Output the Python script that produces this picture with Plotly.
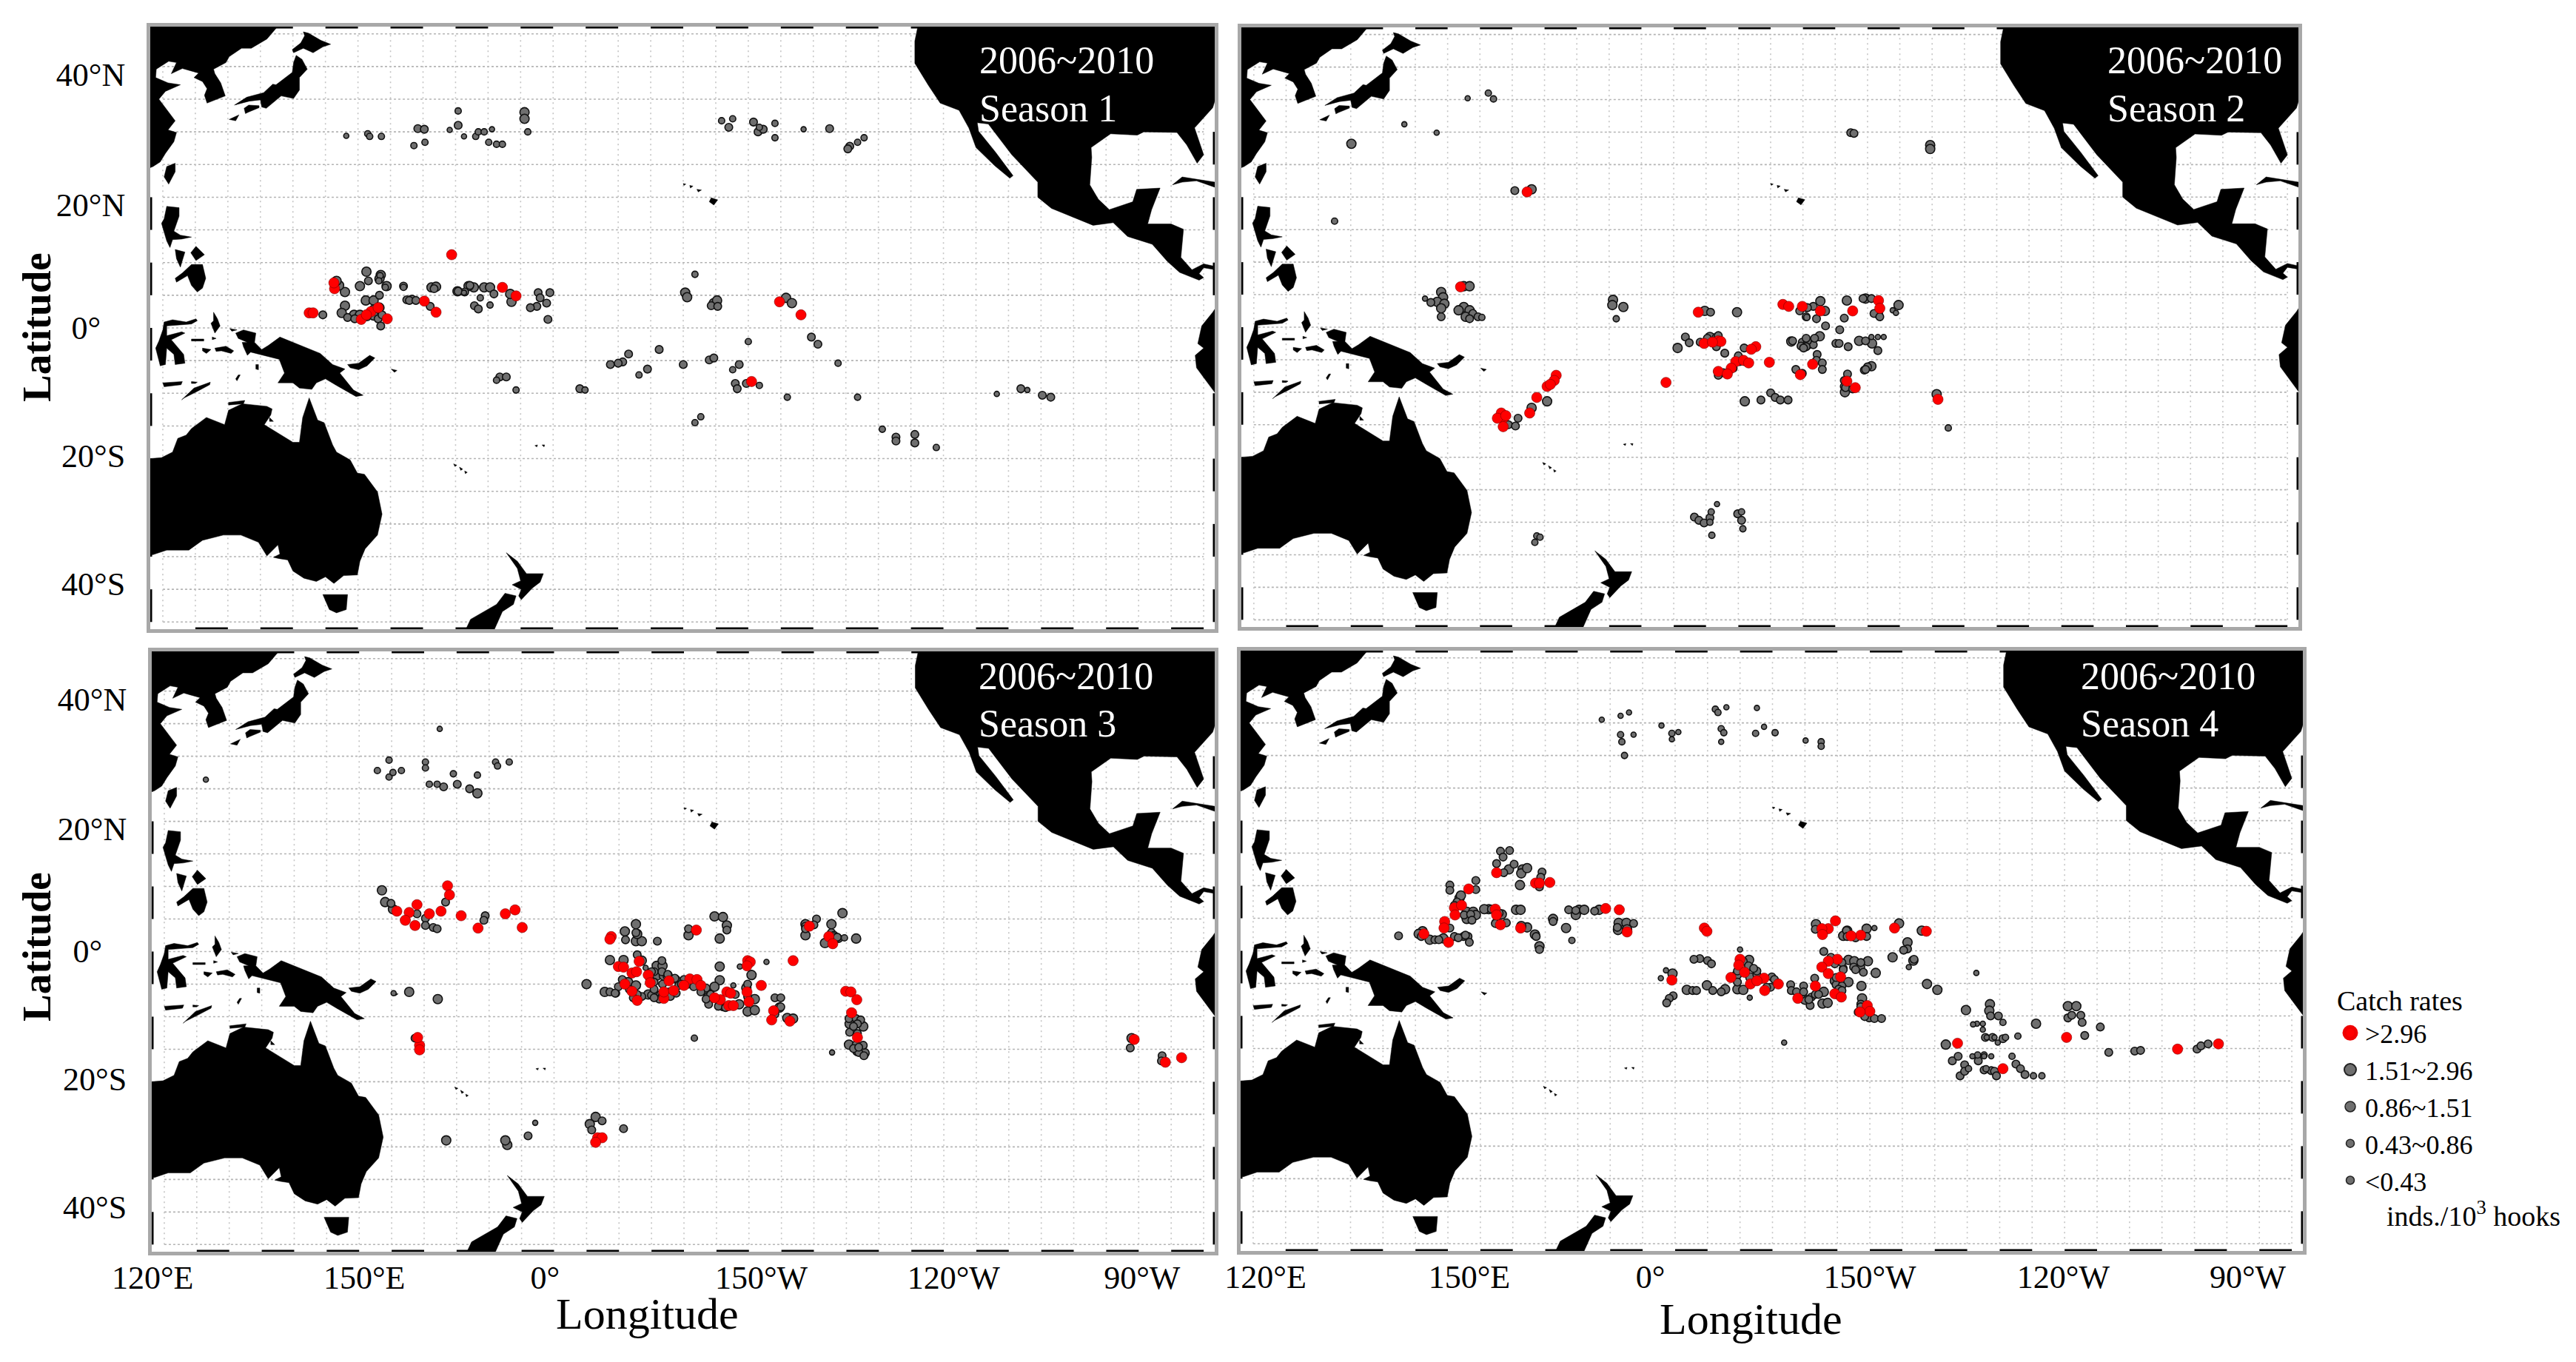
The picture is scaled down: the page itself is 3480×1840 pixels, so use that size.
import plotly.graph_objects as go

# ---- tick labels ----
LAT_TICK_VALS = [38.8, 18.9, 0.1, -19.6, -39.2]
LAT_TICK_TEXT = ["40°N", "20°N", "0°\u00a0\u00a0\u00a0", "20°S", "40°S"]
LON_TICK_TEXT = ["120°E", "150°E", "0°", "150°W", "120°W", "90°W"]
LON_TICK_VALS_3 = [118.2, 150.8, 178.6, 211.9, 241.5, 270.5]
LON_TICK_VALS_4 = [121.9, 153.3, 181.2, 215.0, 244.8, 273.2]
CLASS_NAMES = [">2.96", "1.51~2.96", "0.86~1.51", "0.43~0.86", "<0.43"]

# ---- land outlines (lon, lat) ----
ASIA = [(118,46.3),(137.8,46.3),(136,44.2),(133.6,42.8),(132.1,42.8),(130.2,41.5),(129.7,40.6),(127.8,39.6),(128,38.9),(128.9,37.5),(129.6,35.5),(126.8,34.4),(126.4,35.6),(126.8,36.6),(126.1,37.7),(124.8,38.3),(125.5,39),(123,39.7),(121.3,38.9),(122.1,40.6),(120.9,40.8),(119,39.6),(118.9,38.3),(120.8,37.5),(122.7,37.2),(120.4,36.2),(119.4,35),(120.8,33.2),(121.9,31.7),(120.8,30.3),(122.1,29.9),(121.7,28.5),(120.4,26.7),(119.6,25.4),(118.5,24.7),(118,24.5)]
HOKKAIDO = [(141.6,45.3),(142.4,45.1),(144.3,44),(145.8,43.4),(144.6,43),(143.1,42.1),(141.6,42.8),(140.1,42.1),(139.9,42.6),(141.2,43.6),(141.8,44.7)]
HONSHU = [(140.5,41.7),(141.4,41.1),(142.2,39.6),(141,38.3),(141,36.4),(140.1,35.1),(138.2,35.5),(137,34.5),(135.9,33.6),(135.2,33.8),(135,34.9),(133.3,34.7),(131,34.1),(132.9,35.3),(135.5,36),(136.9,37.3),(137.4,37.2),(139.9,39.1),(140.1,40.6)]
KYUSHU = [(132.5,33.6),(133.2,34.1),(134.8,34),(134.8,33.7),(133.1,33),(132.7,32.8)]
RYUKYU = [(130.2,31.9),(131.7,32.6),(131.2,31.7)]
TAIWAN = [(121.9,25.2),(121.9,23.9),(120.9,22),(120.2,23.1),(120.6,24.7)]
LUZON = [(120.6,18.6),(122.5,18.4),(122.5,17.1),(121.7,14.8),(122.7,14.2),(124.4,13.9),(122.9,13.6),(121.5,13.5),(121.1,12.3),(120.6,13.3),(119.8,16),(120.2,16.7)]
VISAYAS_W = [(121.9,12),(123.4,11.6),(123,10.3),(122.7,9.3),(122.1,10.6)]
VISAYAS_E = [(125.1,12.5),(126.4,11.2),(125.1,10.3),(124.3,11.5)]
MINDANAO = [(124.4,9.7),(126.1,9.7),(126.6,7.6),(126.1,6.1),(125.3,5.5),(124.4,6.5),(123.8,8),(122.1,7),(121.9,7.6),(123,8.4)]
SULAWESI = [(120.2,.9),(121.5,1.25),(123.6,.9),(125.1,1.4),(125.3,1.1),(124.4,.6),(120.6,.3),(120.6,-1.2),(122.9,-.6),(123.4,-.8),(121.3,-1.8),(123.2,-4.05),(123.4,-5.4),(121.9,-5.6),(121.7,-4.05),(120.6,-3.1),(120.4,-5.6),(119.6,-5.8),(119.4,-5),(118.9,-3.1),(119.4,-2),(120,-.3)]
HALMAHERA = [(127.8,2.4),(128.4,1.4),(128.8,.3),(128.2,-.45),(128,-.8),(127.4,.7),(127.8,1.1)]
OBI = [(124.4,-1.7),(126.3,-1.7),(126.3,-2),(124.4,-2)]
BACAN = [(127.6,-1.4),(128.2,-1.6),(127.6,-1.8)]
BURU = [(126.1,-3.1),(127.4,-3.3),(126.7,-3.9),(126.1,-3.5)]
SERAM = [(128,-3.1),(129.7,-2.8),(130.9,-3.5),(130.5,-3.9),(129,-3.5),(128.2,-3.6)]
WAIGEO = [(130.3,-.1),(131.4,-.3),(130.6,-.5)]
NEW_GUINEA = [(131.2,-.8),(132.4,-.3),(134.3,-.8),(134.1,-2.2),(135.2,-3.3),(136.2,-2.7),(138,-1.4),(140.4,-2.35),(144.2,-3.9),(146.1,-5.6),(148,-6.3),(147.2,-6.9),(149.3,-9.5),(150.8,-10.3),(149.7,-10.5),(146.7,-8.8),(145,-7.8),(143.6,-8.4),(142.9,-9.4),(141,-9.2),(140,-8.4),(137.7,-8.4),(138.7,-6.9),(137.9,-4.8),(135.4,-4.2),(133.5,-3.7),(133,-4.2),(132.4,-2.9),(132.2,-2.2),(133,-2.2),(131.6,-1.6)]
ARU = [(134.3,-5.6),(134.7,-5.6),(134.7,-6.4),(134.3,-6.3)]
TANIMBAR = [(131.6,-7.2),(131.9,-7.2),(131.4,-8.1),(131.2,-7.8)]
FLORES = [(120,-8.4),(123,-8.2),(122.8,-8.7),(120.2,-9)]
TIMOR = [(122.9,-11),(124.8,-9.2),(127.3,-8.3),(127.2,-8.7),(125.3,-9.7),(123.3,-10.7)]
ALOR = [(124.4,-8.2),(125.3,-8.3),(125,-8.5),(124.4,-8.5)]
NEW_BRITAIN = [(148.4,-5.6),(150.1,-5.4),(151.8,-4.2),(152.6,-4.6),(151.4,-5.8),(150.1,-6.4),(148.8,-6.1)]
BOUGAINVILLE = [(155.1,-6.3),(156,-6.5),(155.6,-6.8)]
NEW_CALEDONIA_A = [(164.7,-20.8),(165.2,-21),(164.9,-21.2)]
NEW_CALEDONIA_B = [(165.6,-21.3),(166.1,-21.6),(165.8,-21.8)]
NEW_CALEDONIA_C = [(166.4,-21.9),(166.8,-22.1),(166.5,-22.3)]
FIJI_A = [(177.2,-18),(177.6,-17.9),(177.5,-18.2)]
FIJI_B = [(178.3,-17.9),(178.7,-17.9),(178.6,-18.2)]
AUSTRALIA = [(118,-20),(119.8,-19.85),(121.5,-19),(122.3,-16.9),(123.6,-16.4),(124.4,-15.4),(126.7,-13.7),(129.5,-14.8),(130.1,-12.6),(132.2,-11.6),(136,-12),(136.8,-12.4),(136.6,-13.3),(135.6,-14.8),(140,-17.5),(141,-17.5),(141.5,-13.7),(142.5,-10.7),(143.8,-14.1),(144.8,-14.5),(146.1,-17.9),(146.7,-19),(148.8,-20.2),(149.9,-22.2),(151,-22.4),(153,-25.1),(153.7,-28.5),(153,-31.7),(151.1,-33.8),(150.3,-35.7),(149.9,-37.8),(147.8,-37.9),(146.3,-39.1),(145,-38.1),(143.6,-38.8),(141.7,-38.3),(140,-37.2),(139.2,-35.5),(137.9,-35.3),(137,-35.1),(138,-34.6),(137.7,-33.2),(136,-34.9),(134.7,-32.8),(132,-31.7),(129.3,-31.7),(126.1,-32.5),(124,-34),(120.6,-34),(118.5,-34.7),(118,-34.7)]
MELVILLE = [(130.1,-11.4),(132.6,-11.1),(132.4,-11.6),(130.1,-11.8)]
GROOTE = [(136.4,-13.7),(137,-14.3),(136.4,-14.3)]
TASMANIA = [(144.6,-40.8),(148.4,-40.8),(148.2,-43.1),(146.7,-43.6),(145.6,-43.1)]
NZ_NORTH = [(172.8,-34.4),(174.5,-35.7),(175.9,-37.6),(178.5,-37.6),(178,-38.9),(176.8,-39.8),(175.1,-41.6),(174.7,-41),(175.1,-40),(173.7,-39.3),(175,-38.7),(174.5,-36.8)]
NZ_SOUTH = [(172.6,-40.6),(174.3,-41),(173.9,-42.3),(172.2,-43.4),(170.9,-46.3),(166.5,-46.3),(167.3,-44.6),(169.4,-43.4),(171.3,-42.3)]
HAWAII_BIG = [(204.3,19.9),(205.3,19.6),(204.7,18.8),(204,19.3)]
HAWAII_A = [(202.1,21.2),(202.8,21.1),(202.3,20.8)]
HAWAII_B = [(201,21.8),(201.5,21.7),(201.1,21.4)]
HAWAII_C = [(200,22.1),(200.4,22),(200.1,21.8)]
N_AMERICA = [(236.1,46.3),(235.6,43.9),(235.6,40.5),(237.7,37.1),(239.5,34.4),(242.4,33.3),(243.9,30.6),(245,27.6),(247.9,24.8),(250.2,22.9),(250.7,23.3),(248,26.9),(245.4,30.1),(245.2,31.4),(246.9,31.2),(250.5,26.5),(254.5,22.3),(254.5,20),(256.6,18.3),(263,15.7),(266.1,16.1),(268.3,14),(272.1,12.8),(274.4,10.2),(276.3,8.5),(279.3,7.3),(280,7.7),(279.3,8.3),(280,9.2),(281.8,8.9),(281.8,9.4),(280,9.8),(278.2,8.9),(276.5,10.8),(276.9,15.1),(275,15.9),(271.4,15.9),(272,18.1),(273.3,21.4),(269.7,21.2),(269.1,19.3),(265.5,18.1),(263.8,19.7),(262.5,21.9),(262.8,26.1),(262.7,27.6),(265.7,29.7),(269.8,29.5),(270.8,30),(275.9,29.9),(277.4,28),(279,25.2),(280,26.5),(278.6,30.6),(281.4,33.7),(281.8,35),(281.8,46.3)]
CUBA = [(275.2,21.9),(276.7,23.1),(281.8,22.3),(281.8,21.5),(278.9,22.5),(276.7,22.3)]
S_AMERICA = [(281.8,3),(281.4,2.4),(279.7,.3),(279.1,-2.4),(280,-3.1),(278.7,-4.2),(278.9,-6.1),(281.8,-10)]
LAND = [ASIA, HOKKAIDO, HONSHU, KYUSHU, RYUKYU, TAIWAN, LUZON, VISAYAS_W, VISAYAS_E, MINDANAO, SULAWESI, HALMAHERA, OBI, BACAN, BURU, SERAM, WAIGEO, NEW_GUINEA, ARU, TANIMBAR, FLORES, TIMOR, ALOR, NEW_BRITAIN, BOUGAINVILLE, NEW_CALEDONIA_A, NEW_CALEDONIA_B, NEW_CALEDONIA_C, FIJI_A, FIJI_B, AUSTRALIA, MELVILLE, GROOTE, TASMANIA, NZ_NORTH, NZ_SOUTH, HAWAII_BIG, HAWAII_A, HAWAII_B, HAWAII_C, N_AMERICA, CUBA, S_AMERICA]

# ---- Season 1 catch-rate points (lon, lat) ----
s1_red = [(164.4,11.2),(160.2,4.1),(162,2.4),(154.5,1.4),(152,2.5),(153.1,3.1),(150.5,1.3),(151.3,2),(146.4,6),(146.3,6.9),(142.5,2.3),(143.1,2.3),(172.2,6.2),(174.3,4.9),(214.8,4),(218.1,2),(210.5,-8.2)]
s1_large = [(151.3,8.6),(153.5,8.1),(153.3,7.5),(150.3,6.4),(154.4,6.4),(148,5.5),(147.1,6.5),(146.7,7.2),(148,3.4),(147.5,2.3),(149.4,2),(150.3,2),(151.2,4.2),(152.4,4.2),(153.3,3.1),(152.4,1.9),(161.3,6.2),(162,6.3),(165.3,5.6),(175.6,33),(175.6,32),(200.3,5.4),(200.6,4.7),(204.7,3.8),(205.2,4.2),(215.8,4.6),(216.7,3.8),(169.4,6.2),(167.8,6.2),(170.3,6.2),(167,6.4),(173.6,4),(173.4,5.2)]
s1_mid = [(151.6,7.2),(153.3,5),(157,6.4),(157.5,4.3),(158.3,4.4),(161.1,3.3),(166.4,5.5),(167.2,6.5),(167.9,3.4),(144.6,2),(148.4,1.6),(149.5,1.4),(153.1,1.4),(153.5,.3),(151.4,1.7),(153.7,2),(152.4,2.9),(165.4,5.6),(161.7,6),(170.9,5.2),(177.7,5.4),(179.5,5.4),(178,4.6),(179,3.8),(177.5,3.3),(176.5,3.1),(179.2,1.3),(168.5,2.9),(204.3,3.4),(205.3,3.3),(219.7,-1.4),(220.7,-2.5),(196.3,-3.3),(191.6,-4),(190.7,-5.2),(188.8,-5.6),(190,-5.4),(194.5,-6.3),(200,-5.6),(204,-4.9),(204.7,-4.6),(208.6,-5.6),(208,-8.5),(208.3,-9.3),(209.7,-8.5),(171.8,-7.5),(172.8,-7.5),(184.1,-9.3),(251.9,-9.3),(255.2,-10.3),(256.5,-10.6),(232.7,-16.7),(232.7,-17.3),(235.6,-16.3),(235.6,-17.6),(157.9,4.2),(158.9,4.2),(225.6,27.8),(225.3,27.4),(211.5,30),(212.3,30.4),(210.8,31.5),(222.5,30.5),(207,30.7),(165.4,31),(159.2,30.5),(160.2,30.4)]
s1_small = [(201.8,8.2),(153.4,8),(153.2,7.2),(154.2,6.2),(157,6.2),(168.8,4.6),(170.3,3.5),(193.2,-7.2),(207.6,-6.4),(211.7,-8.8),(171.3,-8),(174.3,-9.5),(184.9,-9.5),(216,-10.6),(226.8,-10.6),(223.8,-5.4),(210,-2.1),(201.8,-14.5),(238.9,-18.3),(230.6,-15.5),(202.7,-13.6),(165.4,33.2),(176.1,30),(205.9,31.7),(207.6,32),(211.7,30.7),(214.1,31.3),(214.1,29.1),(226.8,28.4),(227.8,29.1),(151.5,29.7),(151.8,29.3),(153.6,29.3),(160.3,28.4),(158.6,27.9),(168.1,29.3),(168.5,30),(169.4,30),(170.1,28.4),(171.3,28.1),(172.2,28.1)]
s1_tiny = [(148.2,29.4),(164.1,30.3),(166.3,29.3),(170.6,30.4),(218.5,30.4),(248.2,-10.1),(252.9,-9.5),(166.3,5.4)]

# ---- Season 2 ----
s2_red = [(162.3,20.8),(152,6.2),(166.8,-7.4),(166.5,-8.2),(165.4,-9.1),(165.9,-8.8),(163.8,-10.8),(162.7,-13.2),(158.3,-13.2),(158.6,-14),(157.7,-14),(159,-13.6),(158.6,-15.3),(183.8,-8.5),(188.8,2.3),(201.9,3.5),(202.8,3.2),(204.9,3.2),(207.7,2.5),(212.7,2.5),(216.7,4.1),(216.9,2.9),(189.7,-2.5),(191.9,-2.1),(192.3,-2.2),(191,-2.3),(197.7,-3),(197,-3.4),(194.6,-5.3),(195.8,-5.1),(196.6,-5.5),(193.9,-6.3),(191.9,-6.8),(193.3,-7.2),(199.8,-5.4),(206.5,-5.7),(204.6,-7.3),(211.8,-8.3),(213.1,-9.3),(225.9,-11.1)]
s2_large = [(135.1,28.2),(163,21.2),(149,5.4),(149.3,4.6),(148.4,3.9),(149.5,3.6),(149,2.9),(152.5,6.3),(153.4,6.3),(152.5,3.1),(151.7,2.6),(153.4,2.6),(152.8,1.6),(175.6,4.2),(175.5,3.4),(177.2,3.1),(207.7,4),(208.4,2.5),(211.8,4.1),(219.8,3.4),(207.6,-1.4),(203.2,-2.2),(194.8,2.3),(189.8,2.5),(190.6,-1.5),(185.6,-3.2),(196,-11.4),(213.7,-2.1),(215.7,-2.5),(215.6,-6),(211.5,-10),(225.7,-10.3),(216.6,2.1),(214.7,4.4),(224.7,28),(224.7,27.4),(165.4,-11.4),(163,-12.4)]
s2_mid = [(190.7,2.3),(206.6,3.2),(205.5,3),(204.5,2.5),(207.1,1.3),(205.5,1.6),(203.4,-2.1),(204.9,-2.3),(205.9,-2.7),(206.6,-2.7),(210.1,-2.5),(210.6,-2.5),(212,-3),(214.7,-2.1),(207.2,-4.2),(207.1,-5.1),(208,-5.5),(208,-6.5),(203.9,-6.5),(204.9,-7.1),(192.9,-4),(186.8,-1.5),(187.4,-2.4),(191.6,-1.5),(191.6,-3),(195.9,-3.2),(195,-4.4),(200,-10.1),(200.7,-10.8),(201.5,-11.2),(202.7,-11.2),(198.5,-11.2),(208.5,.2),(210.7,-.4),(211.4,1.4),(216.6,-3.6),(215,-6.1),(214.5,-6.6),(211.9,-7.2),(211.4,-9.1),(216,2.1),(216.9,1.6),(214.3,4.4),(215.6,4.4),(212.4,29.9),(212.9,29.8),(160.4,21),(147.4,3.8),(149,1.6),(153.9,2.1),(154.7,1.6),(153.4,1.3),(204.7,-2.9),(205.7,-2.1),(205.5,-3),(205.1,-3.2),(159.4,-15),(160.5,-15.2),(160.9,-14),(188.2,-29.2),(188.9,-29.7),(189.7,-30.1),(190.6,-29.3),(194.9,-28.7),(195.5,-29.7),(205.7,3),(205.5,-1.7),(206.8,-1.7),(191.8,-6.8),(192.7,-7),(194.2,-6.3),(195.2,-5.3),(196,-5.3),(190.2,-1.7),(191.9,-1.3),(211.6,-9.3),(211.4,-8.2),(212.7,-9.5),(214.7,-6.5),(191.9,-7.4),(189.1,-2.3)]
s2_small = [(132.5,16.3),(176.1,1.3),(156.3,36),(157.1,35.1),(227.5,-15.5),(205.6,1.5),(155.3,1.5),(190.8,-28.4),(190.6,-30),(195.5,-28.4),(195.7,-31),(190.9,-32),(163.8,-32.1),(164.3,-32.3),(163.5,-33.1)]
s2_tiny = [(153.1,35.2),(143.3,31.2),(148.3,29.9),(146.5,4.4),(217.5,-1.5),(216.6,-1.5),(215.6,-1.5),(218.9,2.6),(219.4,2.2),(191.7,-27.2)]

# ---- Season 3 ----
s3_red = [(188.8,2.3),(188.6,1.9),(201.9,3.3),(189.9,-2.3),(190.7,-2.4),(193.1,-1.5),(192,-3.3),(192.7,-3.1),(194.5,-3.6),(190.9,-5),(192,-6.1),(192.8,-7.5),(194.8,-4.8),(197.7,-4.5),(200.9,-4.2),(202,-4.3),(202.6,-5.2),(200,-5.2),(196.9,-7.2),(196.9,-6.2),(198.4,-6),(206.6,-6.2),(207.2,-6.4),(205.6,-7.4),(204.7,-7.1),(206.9,-8.3),(207.6,-8.3),(209.8,-1.4),(210.2,-1.6),(209.7,-2.2),(216.8,-1.4),(211.9,-5.2),(209.7,-6.2),(210,-7.7),(213.8,-9.1),(213.5,-10.5),(216.3,-10.7),(224.9,-6.1),(225.7,-6.2),(226.6,-7.4),(225.8,-9.4),(226.7,-13.2),(222.3,2.3),(222.9,1.2),(219.3,3.9),(163.6,10.1),(163.9,8.7),(158.9,7.2),(157.7,6),(155.8,6.2),(160.8,5.8),(162.6,6.2),(157.1,4.8),(158.6,4),(165.7,5.5),(168.3,3.6),(172.5,5.8),(174,6.4),(175.1,3.7),(159.3,-14.4),(159.3,-15.1),(159,-13.2),(269.3,-13.5),(274.1,-17),(276.6,-16.3),(186.7,-28.6),(187.4,-28.6),(186.4,-29.3)]
s3_large = [(204.7,5.4),(206,5.3),(192.6,4.2),(192.6,1.6),(193.5,1.6),(192.8,2.7),(190.9,3.1),(200.7,2.5),(205.5,2),(206.6,4),(224.4,5.9),(222.7,4.2),(226.5,2),(218.7,4.2),(218.7,2.5),(221.7,1.3),(195.8,-2.2),(196.7,-2.2),(195.8,-3.7),(196.9,-3.7),(197.5,-3.7),(187.8,-6.2),(191.4,-4.7),(192.6,-5.2),(194.5,-6.6),(195.8,-6.9),(185,-5),(188.6,-1.3),(190.7,-1.3),(193.5,-1.4),(205.5,-4.4),(205.5,-2.3),(204.7,-5.4),(203.6,-6.4),(210.4,-3.6),(209.6,-5.6),(210.9,-7.3),(209.8,-9.2),(210.9,-9),(208.5,-8.1),(215.9,-10.2),(216.8,-10.3),(214.7,-8.6),(225.4,-14.3),(225.5,-11.1),(227.6,-11.5),(227.8,-15.6),(226.7,-15.3),(153.5,9.4),(154,7.6),(155.2,6.5),(168.2,24.3),(172.8,-29.7),(172.5,-29),(163.4,-29),(162.1,-7.3),(157.7,-6.2),(268.9,-13.3),(186.4,-25.4),(185.5,-26.5)]
s3_mid = [(188.6,-6.2),(189.5,-6.4),(189.9,-5.4),(190.5,-4.3),(193.5,-6.9),(195,-6.7),(196.7,-5),(198.8,-4.3),(200,-4.3),(203.4,-5.6),(203.7,-6.9),(203.8,-8.1),(206,-8.5),(207.9,-6.6),(214,-7.1),(214.9,-7.1),(214.9,-8.5),(214,-9.6),(209.8,-6.9),(218.7,3.9),(220.4,5),(222.7,2.9),(223.1,2.5),(223.8,2),(225.4,-10.3),(226.5,-10.3),(227.2,-10.5),(226.7,-11.1),(225.5,-12.4),(226.7,-12.6),(226.5,-14.3),(227.6,-14.4),(226.9,-15.5),(227.7,-16),(192.6,2.9),(191,1.8),(196.6,-1.4),(200.7,3.5),(206.6,3.3),(195.4,-4.7),(196.4,-6.6),(197.7,-6.2),(199.2,-5.2),(200.7,-5),(202.6,-6.2),(196.6,-3.1),(195.4,-3.1),(192.8,-.5),(160.2,5.1),(161.4,3.7),(162,3.5),(160.2,4),(163.3,7.6),(169.4,5.5),(169.2,4.8),(154.9,7.4),(158.9,5.8),(158.6,-13.3),(268.7,-14.8),(273.6,-16),(273.5,-16.8),(185.8,-27.4),(187.4,-26),(190.7,-27.2),(176,-28.3),(163,25.3),(167,25),(165.1,25.7),(195.9,1.6),(195,-3.1),(194.7,-4.1),(195.4,-5.8),(196.2,-7.3),(196.7,-6.7),(197.9,-6.9),(198.8,-6.4),(199.6,-5),(201.5,-5.4),(198.6,-4.1),(197.5,-3.5),(195.4,-7.1),(204.1,-6.6),(203.4,-7.3),(205.3,-8.4),(206.4,-8.6),(192.8,-6.6),(189.4,-6.4),(192.2,-7.1),(191.6,-5.8),(209.8,-5),(226.1,-11.5),(226.1,-14.9),(226.9,-14.7),(223.1,2.3),(223.6,2.2),(218.7,3.5),(220,4.1)]
s3_small = [(154.6,29.4),(152.8,27.8),(154.6,26.8),(155.2,27.5),(156.5,27.8),(160.2,29.1),(160.2,28.2),(160.8,25.7),(162,25.7),(164.5,27.3),(168.2,27.1),(171,29.1),(173.1,29.1),(171.3,28.5),(201.6,-13.3),(224.7,2.1)]
s3_tiny = [(162.4,34.2),(222.8,-15.5),(207.6,-5.2),(212.7,-1.6),(208.6,-2.3),(194.1,-2.5),(177.1,-26.3),(155.3,-6.4),(126.4,26.4)]

# ---- Season 4 ----
s4_red = [(189.5,3.5),(189.9,3),(184.5,-4.5),(195,-1.3),(194.8,-2.2),(193.6,-4.1),(195.7,-3.3),(196.6,-5.1),(198.7,-4.2),(198.8,-6.1),(197.6,-4.6),(200.9,-5.1),(203.9,-7.3),(206.6,-5.4),(209.7,4.6),(208.6,3.4),(207.6,3.4),(207.7,2.5),(218.8,3.5),(223.7,3),(210,-1.3),(208.6,-1.6),(207.6,-2.5),(208.6,-3.5),(210.5,-4),(209.6,-6.6),(210.6,-7.1),(214.6,-8.4),(215,-9.3),(213.5,-9.4),(228.5,-14.2),(213.6,2.4),(212.1,2.3),(235.5,-18.1),(157.5,12),(153.2,9.5),(163.5,10.4),(164.1,10.4),(165.7,10.5),(174.3,6.5),(151,6.6),(152.1,7),(151.1,5.5),(149.5,4.5),(149.4,3.5),(157.3,6.4),(157.5,5.5),(158.1,4),(146.3,2.6),(150.1,1.3),(161.2,3.5),(177.6,2.9),(176.4,6.3),(262.4,-15.1),(268.7,-14.3),(245.3,-13.3)]
s4_large = [(206.7,4.1),(214.5,3.4),(211.5,3.1),(210.9,2.3),(219.5,4.2),(223,3.1),(220.8,1.3),(218.5,-1),(221.7,-1.5),(223.8,-5.1),(225.4,-6),(196.4,-1.4),(194.6,-5.9),(195.5,-6),(189.9,-5.3),(186.8,-6),(192.7,-5.9),(184.6,-3.5),(211.7,-1.4),(212.6,-1.6),(214.7,-1.6),(215.9,-3.4),(213.7,-5.4),(213.8,-7.3),(207.9,-6.3),(207.7,-8.1),(208.5,-8),(211.7,-4.8),(209.6,-4.6),(196.6,-4.1),(194.5,-3.7),(229.8,-9.1),(233.5,-8.2),(233.4,-9.2),(226.7,-14.4),(205,-7.5),(161.1,10.1),(160.5,6.3),(161.2,6.3),(152.9,6),(153.9,6),(152.9,4.9),(154.3,5.5),(146.1,3),(145.5,2.6),(147.2,1.7),(149.3,1.9),(151.8,8.1),(152,8.5),(156.3,6.4),(155.6,6.4),(157.5,4.3),(158.3,5.6),(161.5,12.5),(161.3,11.9),(159.4,12.5),(162.2,12.7),(166.2,4.9),(168.2,3.5),(164.1,.7),(163.4,2.5),(162.2,3.6),(161.3,3.8),(170.2,6.3),(171,6.3),(169.7,5.5),(173.3,6.3),(176.3,4.3),(177.5,4.3),(176.2,3.2),(177.6,3.3),(240.6,-11.2),(245.5,-8.5),(246.8,-8.5)]
s4_mid = [(187.7,-6.1),(188.3,-6.1),(190.8,-6.1),(192.1,-6.3),(190,-1.5),(190.6,-2),(188.8,-1.2),(187.9,-1.3),(184.7,-6.9),(184.1,-7.3),(183.7,-8),(196.5,-2.5),(197.6,-3.7),(197.6,-3.1),(199.9,-4),(199.7,-5.6),(202.8,-5.2),(202.9,-6.1),(204.8,-5.4),(206.5,-4.2),(206,-7.1),(205.8,-8.4),(204.5,-6.7),(207.9,-.1),(206.6,3.3),(211.4,3.1),(211.5,2.2),(212.8,2),(214.5,2.2),(212.5,-2.5),(213.6,-2.5),(214,-3.3),(210.9,-2.7),(209.8,-5.2),(210.7,-5.4),(213.6,-8.2),(214.9,-10.3),(215.7,-10.4),(216.8,-10.4),(213.2,-9.4),(220.8,.3),(220.2,.1),(221.8,-1.3),(233.6,-10),(234.8,-10),(232.8,-13.3),(233.9,-13.3),(235.5,-13.5),(227.7,-16.9),(228.6,-16.2),(231.7,-16.9),(232.6,-18.3),(233.7,-18.4),(229.6,-17.5),(142.4,2.3),(148,1.7),(151,2.2),(152.4,2.2),(153.1,2.2),(150.3,3.5),(153.3,1.3),(148.6,1.7),(154.3,10.8),(154.3,9.4),(150.3,10.1),(150.3,9.3),(151.4,7.5),(158.1,15.3),(159.5,15.4),(158.5,14.4),(157.5,13.4),(158.6,12),(160.2,13.3),(164.5,12.1),(164.3,11.3),(164.1,9.8),(157.3,4.2),(159,4.3),(168.6,6.3),(169.7,6.2),(172.6,6.1),(164.1,.2),(166.2,4.5),(163.6,2.2),(176.1,3.6),(178.6,4.2),(245.5,-10.3),(246.1,-9.9),(247.5,-9.9),(247.7,-11),(250.5,-11.7),(248.1,-13),(251.8,-15.6),(255.8,-15.4),(256.7,-15.3),(265.4,-15.1),(266,-14.6),(267.1,-14.3),(228.9,-19.2),(229.6,-18.5),(234.2,-18.5),(234.5,-19.2),(237.5,-17.4),(238.2,-18.1),(238.9,-19),(195.5,-1.6),(196.3,-2.3),(197.1,-2.7),(194.6,-3.1),(194.6,-4.8),(198.2,-4.4),(199.1,-5.6),(200.3,-4.4),(203.7,-6.3),(204.8,-6.3),(205.6,-7.5),(206.6,-6.7),(207.1,-6.7),(209,-1),(209.6,-2),(210.7,-1.8),(210.9,-2.9),(212.8,-2.9),(213.6,-1.8),(209.8,-4.1),(210.2,-5.9),(209.8,-6.7),(210.7,-6.1),(213.6,-8.6),(214.2,-10.1),(152.5,5.5),(153.5,5.6),(153.7,4.7),(145.9,2.2),(151.6,2),(152.7,2.4),(156.7,6.4),(157.9,5.8),(151,7)]
s4_small = [(169.1,1.6),(176.6,33.2),(176.8,32.1),(177.2,30),(191.2,37.1),(191.6,36.6),(192.1,34.1),(192.5,33.5),(197.4,33.4),(200.4,33.5),(207.5,32.1),(207.5,31.4),(184.5,33.4),(235.5,-11),(237.8,-13.1),(235.9,-13.3),(231.6,-16),(232.6,-16),(236.9,-16.2),(240.2,-19.2),(241.5,-19.2),(232.9,-18.1),(230.2,-18.1)]
s4_tiny = [(195,.2),(183.6,-3),(182.8,-4.2),(196.5,-7.2),(201.8,-14.1),(215.7,3.5),(231.4,-3.4),(232.4,-11.2),(232.4,-12.1),(231.5,-11.2),(230.9,-11.3),(234.7,-14.1),(230.8,-16.2),(232.6,-16.2),(233.7,-16.2),(221,-2.5),(173.7,35.5),(176.6,36.1),(177.9,36.6),(178.6,33.2),(182.9,34.6),(185.5,33.6),(184.5,32.5),(192.9,37.4),(197.6,37.3),(192.1,32.1),(198.7,34.4),(205.1,32.3),(234.2,-13.3),(233,-13.3)]

SEASONS = [(s1_red, s1_large, s1_mid, s1_small, s1_tiny),
           (s2_red, s2_large, s2_mid, s2_small, s2_tiny),
           (s3_red, s3_large, s3_mid, s3_small, s3_tiny),
           (s4_red, s4_large, s4_mid, s4_small, s4_tiny)]
SEASON_LABELS = ["Season 1", "Season 2", "Season 3", "Season 4"]
PERIOD_LABEL = "2006~2010"

# ---- layout constants (pixels in a 3480x1840 page) ----
W, H = 3480, 1840
PANELS = [(203, 1641, 36, 850), (1677, 3105, 37, 847), (205, 1641, 880, 1691), (1676, 3111, 879, 1690)]
LABEL_POS = [(1321, 81, 146), (2845, 81, 146), (1320, 914, 977), (2809, 914, 977)]
LON_RANGE = [118.07, 281.7]
LAT_RANGE = [-46.1, 46.1]
FONT = "Liberation Serif"
FILLS = ["#ff0000", "#6f6f6f", "#6f6f6f", "#6f6f6f", "#6f6f6f"]
SIZES = [14, 12.5, 10.5, 8.5, 7]
LEG_SIZES = [16, 16, 14, 11, 11]
LEG_EDGES = [5, 2, 1.5, 1.5, 1.5]
LEG_EDGE_COLORS = ["#f00000", "#222222", "#222222", "#222222", "#222222"]


def px(x):
    return x / W


def py(y):
    return 1 - y / H


def pairs(seq):
    return [p[0] for p in seq], [p[1] for p in seq]


land_x, land_y = [], []
for poly in LAND:
    xs, ys = pairs(poly)
    land_x += xs + [xs[0], None]
    land_y += ys + [ys[0], None]

h_x, h_y, v_x, v_y = [], [], [], []
for lat in range(-45, 50, 5):
    h_x += [120, 280, None]
    h_y += [lat, lat, None]
for lon in range(120, 285, 5):
    v_x += [lon, lon, None]
    v_y += [-45, 45, None]

fx, fy = [], []
for lon in range(125, 280, 10):
    for lat in LAT_RANGE:
        fx += [lon, lon + 5, None]
        fy += [lat, lat, None]
for lat in range(-45, 45, 10):
    for lon in LON_RANGE:
        fx += [lon, lon, None]
        fy += [lat, lat + 5, None]

fig = go.Figure()
layout = {}
for i, (x0, x1, y0, y1) in enumerate(PANELS):
    n = i + 1
    xa, ya = f"x{n}", f"y{n}"
    fig.add_trace(go.Scatter(x=h_x, y=h_y, xaxis=xa, yaxis=ya, mode="lines", showlegend=False, hoverinfo="skip",
                             line=dict(color="#b4b4b4", width=1.6, dash="3px,3px")))
    fig.add_trace(go.Scatter(x=v_x, y=v_y, xaxis=xa, yaxis=ya, mode="lines", showlegend=False, hoverinfo="skip",
                             line=dict(color="#c4c4c4", width=1.6, dash="2px,5px")))
    fig.add_trace(go.Scatter(x=land_x, y=land_y, xaxis=xa, yaxis=ya, mode="lines", fill="toself", fillcolor="#000000",
                             line=dict(color="#000000", width=0.5), showlegend=False, hoverinfo="skip"))
    fig.add_trace(go.Scatter(x=fx, y=fy, xaxis=xa, yaxis=ya, mode="lines", showlegend=False, hoverinfo="skip",
                             cliponaxis=False, line=dict(color="#000000", width=5)))
    if i == 1:
        fig.add_trace(go.Scatter(x=[127, 279, None, 127, 279], y=[46.55, 46.55, None, -46.85, -46.85],
                                 xaxis=xa, yaxis=ya, mode="lines", showlegend=False, hoverinfo="skip",
                                 cliponaxis=False, line=dict(color="#dcdcdc", width=1.5, dash="10px,14px")))
    groups = SEASONS[i]
    for k in [1, 2, 3, 4, 0]:
        xs, ys = pairs(groups[k])
        fig.add_trace(go.Scatter(x=xs, y=ys, xaxis=xa, yaxis=ya, mode="markers", showlegend=False,
                                 name=CLASS_NAMES[k],
                                 marker=dict(size=SIZES[k], color=FILLS[k],
                                             line=dict(color="#111111" if k else "#7a0000", width=1.6 if k else 0.6))))
    x_labels = i >= 2
    tv = (LON_TICK_VALS_3 if i == 2 else LON_TICK_VALS_4) if x_labels else []
    layout["xaxis" + ("" if n == 1 else str(n))] = dict(
        domain=[px(x0), px(x1)], range=LON_RANGE, anchor=ya, showgrid=False, zeroline=False,
        showline=True, mirror=True, linecolor="#a8a8a8", linewidth=5,
        tickmode="array", tickvals=tv, ticktext=LON_TICK_TEXT if x_labels else [], ticks="",
        ticklabelstandoff=-8, tickfont=dict(family=FONT, size=44, color="#000000"))
    y_labels = i in (0, 2)
    layout["yaxis" + ("" if n == 1 else str(n))] = dict(
        domain=[py(y1), py(y0)], range=LAT_RANGE, anchor=xa, showgrid=False, zeroline=False,
        showline=True, mirror=True, linecolor="#a8a8a8", linewidth=5,
        tickmode="array", tickvals=LAT_TICK_VALS if y_labels else [], ticktext=LAT_TICK_TEXT if y_labels else [], ticks="",
        ticklabelstandoff=20, tickfont=dict(family=FONT, size=44, color="#000000"))

# legend-only entries
for k in range(5):
    fig.add_trace(go.Scatter(x=[None], y=[None], xaxis="x1", yaxis="y1", mode="markers", name=CLASS_NAMES[k],
                             showlegend=True,
                             marker=dict(size=LEG_SIZES[k], color=FILLS[k],
                                         line=dict(color=LEG_EDGE_COLORS[k], width=LEG_EDGES[k]))))

ann = []
for i, (x, y1, y2) in enumerate(LABEL_POS):
    for txt, y in ((PERIOD_LABEL, y1), (SEASON_LABELS[i], y2)):
        ann.append(dict(text=txt, x=px(x), y=py(y), xref="paper", yref="paper", xanchor="left", yanchor="middle",
                        showarrow=False, font=dict(family=FONT, size=52, color="#ffffff")))
for (x, y) in ((49, 442), (49, 1279)):
    ann.append(dict(text="<b>Latitude</b>", x=px(x), y=py(y), xref="paper", yref="paper", textangle=-90, showarrow=False,
                    xanchor="center", yanchor="middle", font=dict(family=FONT, size=55, color="#000000")))
for (x, y) in ((874, 1775), (2365, 1782)):
    ann.append(dict(text="Longitude", x=px(x), y=py(y), xref="paper", yref="paper", showarrow=False,
                    xanchor="center", yanchor="middle", font=dict(family=FONT, size=60, color="#000000")))
ann.append(dict(text="inds./10<sup>3</sup> hooks", x=px(3222), y=py(1640), xref="paper", yref="paper", showarrow=False,
                xanchor="left", yanchor="middle", font=dict(family=FONT, size=38, color="#000000")))

fig.update_layout(
    width=W, height=H, margin=dict(l=0, r=0, t=0, b=0, autoexpand=False), paper_bgcolor="#ffffff", plot_bgcolor="#ffffff",
    annotations=ann, showlegend=True,
    legend=dict(x=px(3155), y=py(1316), xanchor="left", yanchor="top", bgcolor="rgba(0,0,0,0)",
                title=dict(text="Catch rates", font=dict(family=FONT, size=38, color="#000000")),
                font=dict(family=FONT, size=36, color="#000000"), itemwidth=30, tracegroupgap=0),
    **layout)
fig.write_html("out.html", config={"displayModeBar": False}, post_script="document.body.style.margin='0';")
